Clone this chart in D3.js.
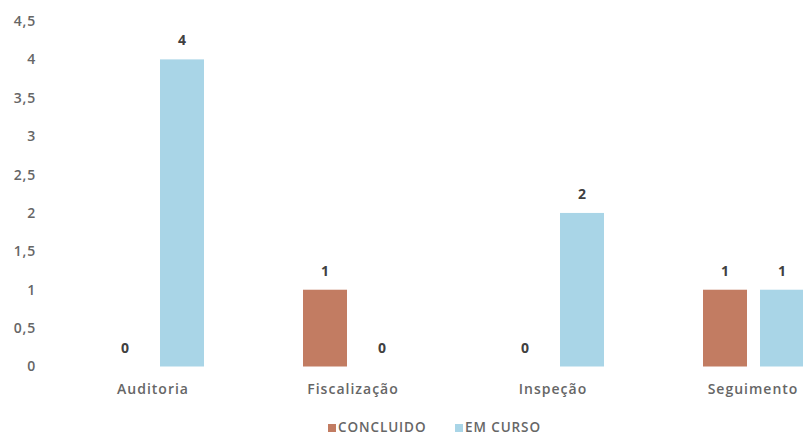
<!DOCTYPE html>
<html><head><meta charset="utf-8">
<script src="https://cdn.jsdelivr.net/npm/d3@7"></script>
<style>body{margin:0;background:#fff;overflow:hidden}svg{display:block}text{font-family:"Open Sans",sans-serif;}</style>
</head><body><svg id="c" width="803" height="436"></svg>
<script>
const categories = ["Auditoria","Fiscalização","Inspeção","Seguimento"];
const seriesNames = ["CONCLUIDO","EM CURSO"];
const concluido = [0,1,0,1];
const emCurso = [4,0,2,1];
const yTicks = [0,0.5,1,1.5,2,2.5,3,3.5,4,4.5];
const colors = ["#c27c62","#a9d5e7"];

const svg = d3.select("#c");
const y = d3.scaleLinear().domain([0,4.5]).range([366.5,21]);
const x0 = d3.scaleBand().domain(categories).range([53,853]).padding(0);
const x1 = d3.scaleBand().domain(seriesNames).range([50,151]).paddingInner(13/57).paddingOuter(0);
const values = [concluido, emCurso];
const fmt = v => String(v).replace(".", ",");

// y axis labels
const yAxis = d3.axisLeft(y).tickValues(yTicks).tickFormat(fmt).tickSize(0).tickPadding(0);
const ga = svg.append("g").attr("transform","translate(36,0)").call(yAxis);
ga.select(".domain").remove();
ga.selectAll("text").attr("fill","#666").style("font-size","14px").style("font-weight","600")
  .style("letter-spacing","0.8px").style("font-family","'Open Sans',sans-serif");

// bars
seriesNames.forEach((s,si)=>{
  const g = svg.append("g");
  categories.forEach((c,ci)=>{
    const v = values[si][ci];
    const bx = x0(c) + x1(s);
    if (v > 0) {
      g.append("rect").attr("x",bx).attr("y",y(v)).attr("width",x1.bandwidth())
        .attr("height",y(0)-y(v)).attr("fill",colors[si]);
    }
    g.append("text").attr("x",bx + x1.bandwidth()/2).attr("y",y(v)-14)
      .attr("text-anchor","middle").attr("fill","#404040")
      .style("font-size","14px").style("font-weight","700").text(v);
  });
});

// category labels
const xAxis = d3.axisBottom(x0).tickSize(0).tickPadding(0);
const gx = svg.append("g").attr("transform","translate(0,384)").call(xAxis);
gx.select(".domain").remove();
gx.selectAll("text").attr("fill","#666").attr("dy","0.71em").style("font-size","14px").style("font-weight","600")
  .style("letter-spacing","1px").style("font-family","'Open Sans',sans-serif");

// legend
const legendX = [328,455];
seriesNames.forEach((s,i)=>{
  svg.append("rect").attr("x",legendX[i]).attr("y",424).attr("width",8).attr("height",8).attr("fill",colors[i]);
  svg.append("text").attr("x",legendX[i]+10).attr("y",432).attr("fill","#666")
    .style("font-size","13.5px").style("font-weight","600").style("letter-spacing","0.9px").text(s);
});
</script></body></html>
